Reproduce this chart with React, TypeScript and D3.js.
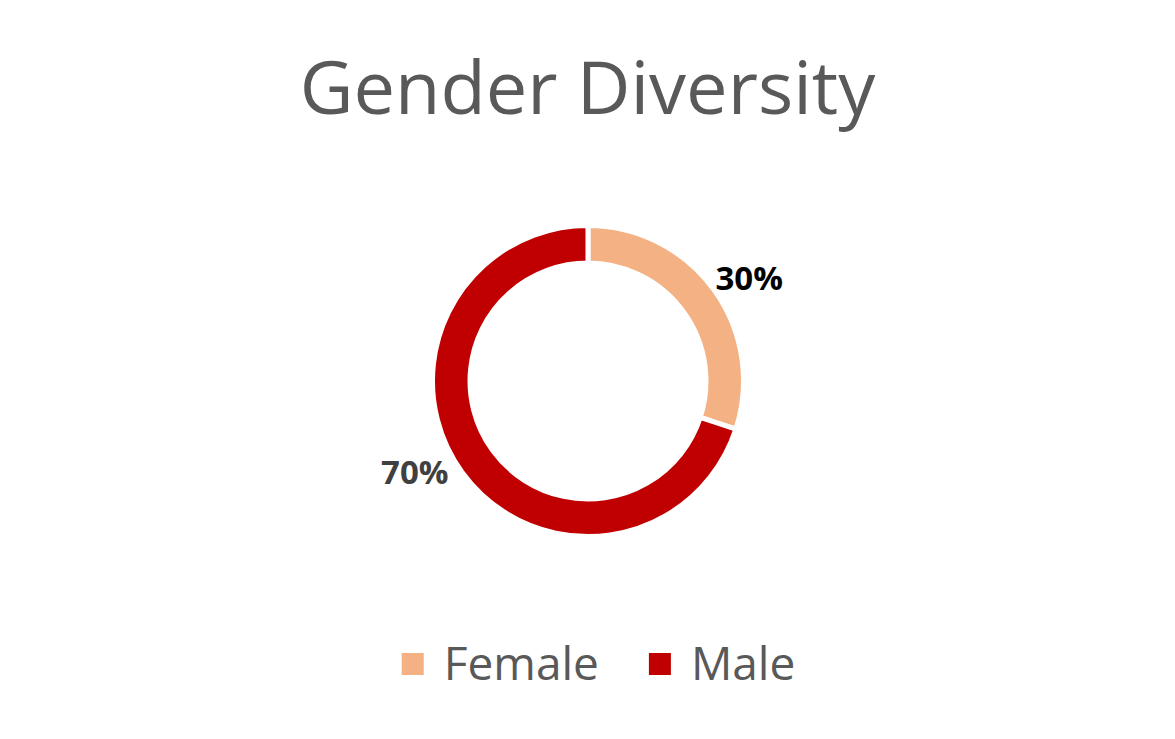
import React, { useEffect, useRef } from 'react';
import * as d3 from 'd3';

const title = 'Gender Diversity';
const categories = ['Female', 'Male'];
const values = [30, 70];
const sliceColors = ['#F4B183', '#C00000'];
const labelColors = ['#000000', '#404040'];

const App: React.FC = () => {
  const svgRef = useRef<SVGSVGElement>(null);

  useEffect(() => {
    if (!svgRef.current) return;
    const svg = d3.select(svgRef.current);
    svg.selectAll('*').remove();

    const width = 1175;
    const cx = 588;
    const cy = 381;
    const outerR = 155.5;
    const innerR = 118;
    const font = "'Open Sans', sans-serif";

    // Title
    svg.append('text')
      .attr('x', width / 2)
      .attr('y', 114)
      .attr('text-anchor', 'middle')
      .attr('font-family', font)
      .attr('font-size', 74)
      .attr('fill', '#595959')
      .text(title);

    const data = categories.map((c, i) => ({ name: c, value: values[i] }));
    const pie = d3.pie<{ name: string; value: number }>().sort(null).value(d => d.value);
    const arcs = pie(data);
    const total = d3.sum(values);

    const arc = d3.arc<d3.PieArcDatum<{ name: string; value: number }>>()
      .innerRadius(innerR)
      .outerRadius(outerR);

    const g = svg.append('g').attr('transform', `translate(${cx},${cy})`);

    // white border between slices, like the spreadsheet default
    g.selectAll('path.slice')
      .data(arcs)
      .enter().append('path')
      .attr('class', 'slice')
      .attr('d', arc)
      .attr('fill', (_, i) => sliceColors[i])
      .attr('stroke', '#ffffff')
      .attr('stroke-width', 5);

    // Data labels placed just outside the ring
    const labelArc = d3.arc<d3.PieArcDatum<{ name: string; value: number }>>()
      .innerRadius(165)
      .outerRadius(165);

    g.selectAll('text.label')
      .data(arcs)
      .enter().append('text')
      .attr('class', 'label')
      .attr('x', d => labelArc.centroid(d)[0] - 6)
      .attr('y', d => labelArc.centroid(d)[1] - 6)
      .attr('dy', '0.36em')
      .attr('text-anchor', d => ((d.startAngle + d.endAngle) / 2 < Math.PI ? 'start' : 'end'))
      .attr('font-family', font)
      .attr('font-weight', 700)
      .attr('font-size', 33)
      .attr('fill', (_, i) => labelColors[i])
      .text(d => `${Math.round((d.data.value / total) * 100)}%`);

    // Legend
    const legend = svg.append('g');
    const sq = 22;
    const textGap = 20;
    const itemGap = 50;
    let offset = 0;
    categories.forEach((c, i) => {
      const item = legend.append('g').attr('transform', `translate(${offset},0)`);
      item.append('rect')
        .attr('x', 0).attr('y', -sq / 2)
        .attr('width', sq).attr('height', sq)
        .attr('fill', sliceColors[i]);
      const t = item.append('text')
        .attr('x', sq + textGap)
        .attr('y', 16)
        .attr('font-family', font)
        .attr('font-size', 46)
        .attr('fill', '#595959')
        .text(c);
      const w = (t.node() as SVGTextElement).getComputedTextLength();
      offset += sq + textGap + w + itemGap;
    });
    const legendWidth = offset - itemGap;
    legend.attr('transform', `translate(${598.5 - legendWidth / 2},664)`);
  }, []);

  return (
    <svg
      ref={svgRef}
      width={1175}
      height={739}
      style={{ position: 'absolute', left: 0, top: 0, display: 'block', background: '#ffffff' }}
    />
  );
};

export default App;
